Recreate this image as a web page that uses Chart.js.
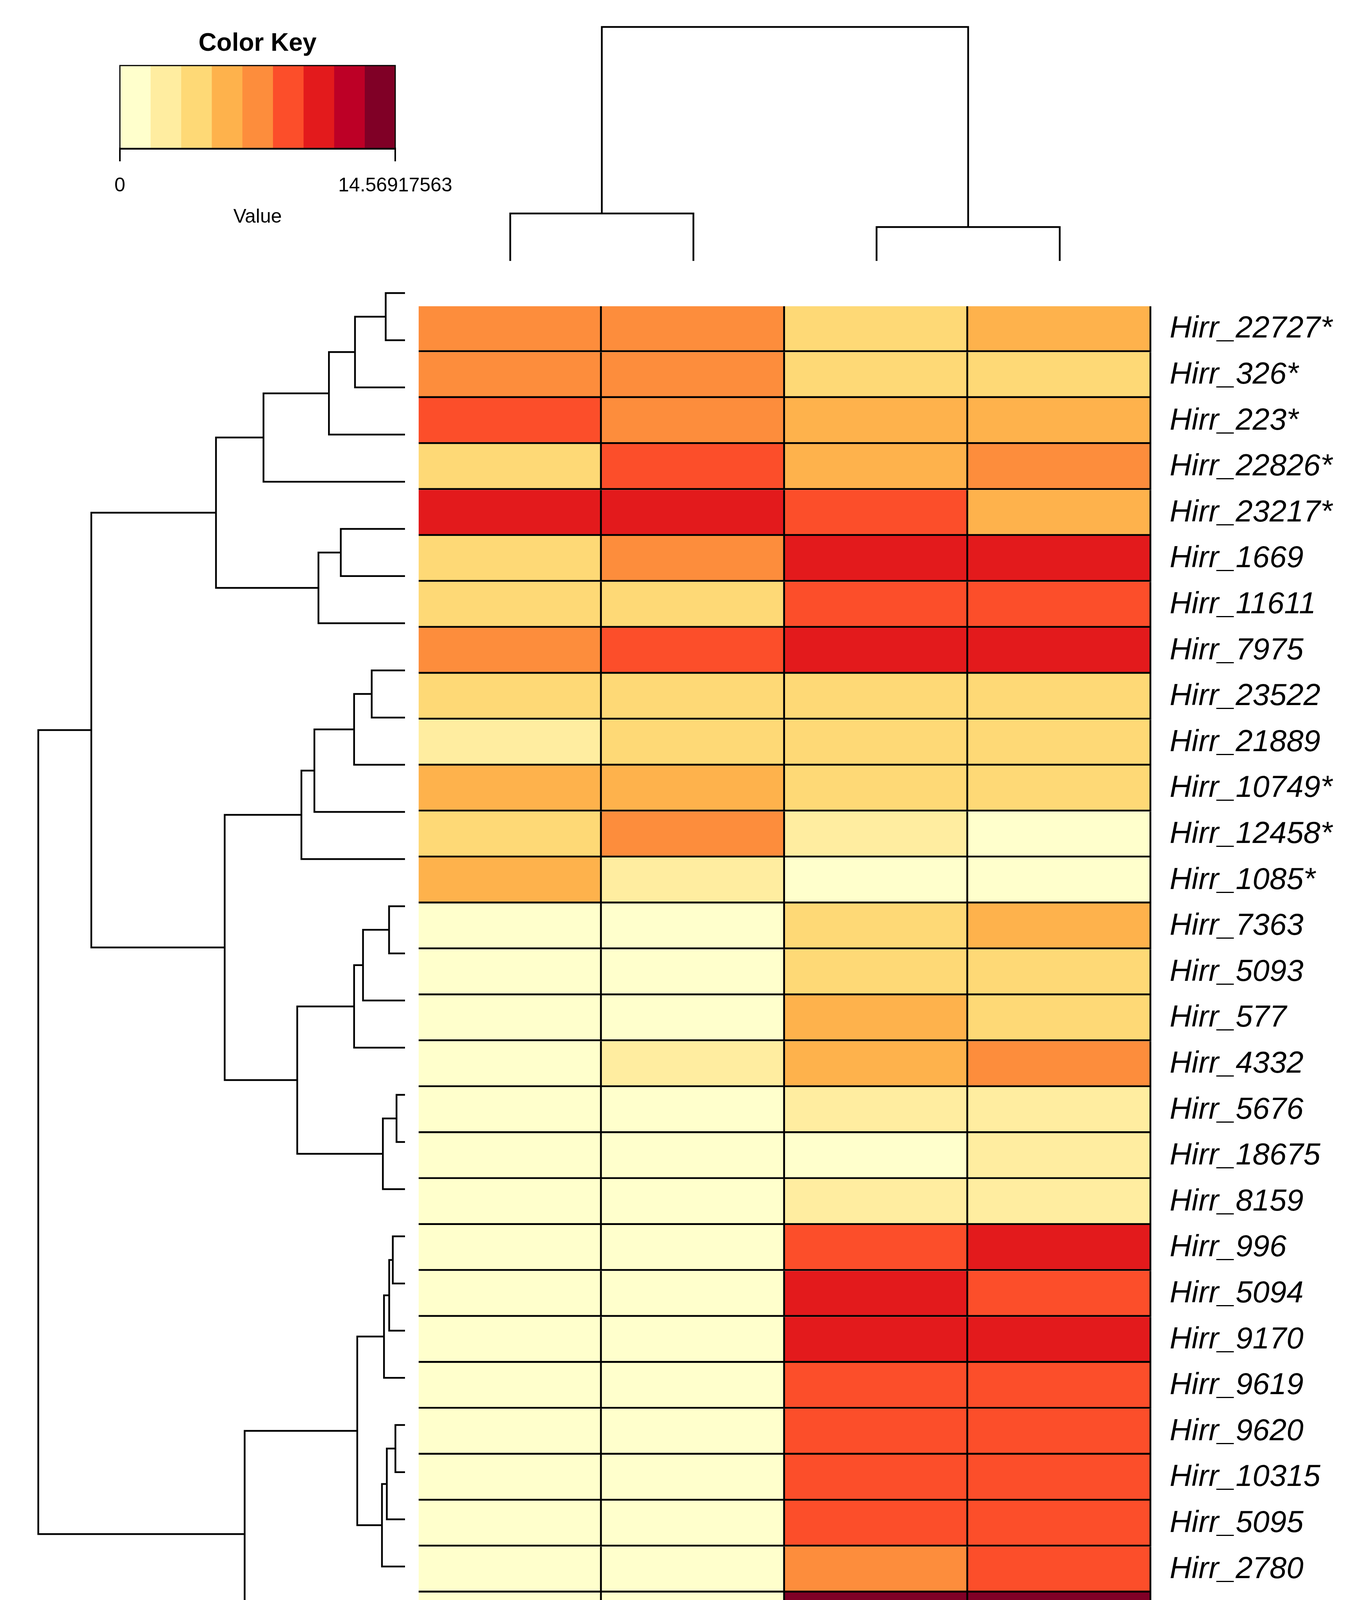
<!DOCTYPE html>
<html>
<head>
<meta charset="utf-8">
<script src="https://cdn.jsdelivr.net/npm/chart.js@4.4.1/dist/chart.umd.min.js"></script>
<style>
html,body{margin:0;padding:0;background:#ffffff;}
body{width:3467px;height:4596px;position:relative;overflow:hidden;}
canvas{position:absolute;}
</style>
</head>
<body>
<canvas id="key" style="left:200px;top:0px" width="1000" height="620"></canvas>
<canvas id="colDendro" style="left:1072px;top:0px" width="1876" height="680"></canvas>
<canvas id="rowDendro" style="left:0px;top:690px" width="1040" height="3622"></canvas>
<canvas id="heat" style="left:1072px;top:690px" width="2395" height="3906"></canvas>
<script>
// ---------------- DATA ----------------
const geneLabels = [
  'Hirr_22727*','Hirr_326*','Hirr_223*','Hirr_22826*','Hirr_23217*',
  'Hirr_1669','Hirr_11611','Hirr_7975','Hirr_23522','Hirr_21889',
  'Hirr_10749*','Hirr_12458*','Hirr_1085*','Hirr_7363','Hirr_5093',
  'Hirr_577','Hirr_4332','Hirr_5676','Hirr_18675','Hirr_8159',
  'Hirr_996','Hirr_5094','Hirr_9170','Hirr_9619','Hirr_9620',
  'Hirr_10315','Hirr_5095','Hirr_2780','Hirr_14454','Hirr_4331'
];
const colLabels = [['Female','Body'],['Male','Body'],['Female','Head'],['Male','Head']];

const femaleBody = [7.4,7.2,8.8,4.6,10.4,4.2,3.9,7.6,4.0,2.9,5.5,4.4,5.2,0.4,0.3,0.5,0.9,0.2,0.2,0.3,0.1,0.1,0.1,0.1,0.0,0.1,0.1,0.1,0.1,0.1];
const maleBody   = [7.1,7.3,7.5,8.7,10.1,7.0,4.5,8.5,3.9,3.7,5.9,6.9,2.7,0.6,0.5,0.7,1.9,0.4,0.3,0.3,0.2,0.1,0.2,0.1,0.1,0.1,0.2,0.1,0.1,0.1];
const femaleHead = [4.3,4.1,5.5,5.4,9.0,10.6,9.3,10.8,4.2,3.9,4.3,2.6,0.9,4.5,4.6,5.8,6.1,2.1,1.4,2.4,9.4,10.2,10.9,9.2,9.1,9.0,8.8,7.8,14.56917563,12.3];
const maleHead   = [5.6,4.4,5.3,6.9,5.8,10.9,9.1,11.0,4.1,4.0,4.4,1.2,1.1,5.3,4.2,4.7,7.0,2.3,2.0,2.2,10.3,9.6,10.6,8.9,9.3,9.4,9.2,8.6,14.1,12.0];

const keyBreaks = [0,1.6188,3.2376,4.8564,6.4752,8.0940,9.7128,11.3316,12.9504,14.56917563];
const keyColors = ['#FFFFCC','#FFEDA0','#FED976','#FEB24C','#FD8D3C','#FC4E2A','#E31A1C','#BD0026','#800026'];
const keyTickValues = [0, 14.56917563];
const keyTickLabels = ['0','14.56917563'];

// Row dendrogram (hclust-style merges: negative = leaf in display order, positive = earlier merge)
const rowMergeA = [-1,1,2,3,-6,5,4,-9,8,9,10,-14,12,13,-18,15,14,11,7,-21,20,21,-25,23,24,22,-29,26,19];
const rowMergeB = [-2,-3,-4,-5,-7,-8,6,-10,-11,-12,-13,-15,-16,-17,-19,-20,16,17,18,-22,-23,-24,-26,-27,-28,25,-30,27,28];
const rowMergeHeight = [17.1,44.3,67.4,125.4,56.9,76.7,167.5,29.5,45.1,80.3,91.8,14.1,37.2,45.1,7.5,19.6,95.5,159.8,278,10.8,14.0,18.6,8.5,16.1,20.4,42.3,48.6,142.1,325];

// Column dendrogram
const colMergeA = [-1,-3,1];
const colMergeB = [-2,-4,2];
const colMergeHeight = [42,30,207];

// ---------------- HELPERS ----------------
const FONT = "'Liberation Sans', Arial, Helvetica, sans-serif";
Chart.defaults.font.family = FONT;
Chart.defaults.color = '#000';

function colorFor(v) {
  for (let i = 0; i < keyColors.length; i++) {
    if (v <= keyBreaks[i + 1]) return keyColors[i];
  }
  return keyColors[keyColors.length - 1];
}

function dendroSegments(mA, mB, heights) {
  const pos = [], hgt = [], segs = [];
  const get = r => r < 0 ? {p: -r - 1, h: 0} : {p: pos[r - 1], h: hgt[r - 1]};
  for (let k = 0; k < heights.length; k++) {
    const a = get(mA[k]), b = get(mB[k]), h = heights[k];
    segs.push([{p: a.p, h: a.h}, {p: a.p, h: h}, {p: b.p, h: h}, {p: b.p, h: b.h}]);
    pos.push((a.p + b.p) / 2);
    hgt.push(h);
  }
  return segs;
}

const lineStyle = {showLine: true, borderColor: '#000', borderWidth: 4.5, pointRadius: 0, pointHoverRadius: 0, fill: false, tension: 0, clip: false};
const baseOpts = {responsive: false, animation: false, devicePixelRatio: 1, events: []};

// ---------------- COLOR KEY ----------------
const boxPlugin = {
  id: 'keyBox',
  afterDatasetsDraw(chart) {
    const a = chart.chartArea, ctx = chart.ctx;
    ctx.save();
    ctx.strokeStyle = '#000';
    ctx.lineWidth = 3;
    ctx.strokeRect(a.left, a.top, a.right - a.left, a.bottom - a.top);
    ctx.restore();
  }
};
new Chart(document.getElementById('key'), {
  type: 'bar',
  data: {
    labels: [''],
    datasets: keyColors.map((c, i) => ({
      label: 'bin' + i,
      data: [[keyBreaks[i], keyBreaks[i + 1]]],
      backgroundColor: c, borderWidth: 0,
      barPercentage: 1, categoryPercentage: 1, grouped: false
    }))
  },
  options: Object.assign({}, baseOpts, {
    indexAxis: 'y',
    layout: {padding: {left: 107, right: 188, top: 0, bottom: 0}},
    plugins: {
      legend: {display: false}, tooltip: {enabled: false},
      title: {display: true, text: 'Color Key', color: '#000', font: {family: FONT, weight: 'bold', size: 64, lineHeight: 1.2}, padding: {top: 74, bottom: 17}}
    },
    scales: {
      x: {
        type: 'linear', min: keyTickValues[0], max: keyTickValues[1], position: 'bottom',
        afterBuildTicks: s => { s.ticks = keyTickValues.map(v => ({value: v})); },
        ticks: {callback: (v, i) => keyTickLabels[i], font: {family: FONT, size: 50, lineHeight: 1.2}, color: '#000', padding: 33, autoSkip: false, maxRotation: 0},
        grid: {drawOnChartArea: false, drawTicks: true, tickLength: 33, color: '#000', lineWidth: 4},
        border: {display: true, color: '#000', width: 5},
        title: {display: true, text: 'Value', color: '#000', font: {family: FONT, size: 50, lineHeight: 1.2}, padding: {top: 0, bottom: 34}},
        afterFit: s => { s.height = 240; }
      },
      y: {display: false}
    }
  }),
  plugins: [boxPlugin]
});

// ---------------- COLUMN DENDROGRAM ----------------
new Chart(document.getElementById('colDendro'), {
  type: 'scatter',
  data: {
    datasets: dendroSegments(colMergeA, colMergeB, colMergeHeight).map((s, i) => Object.assign({
      label: 'c' + i, data: s.map(q => ({x: q.p, y: q.h}))
    }, lineStyle))
  },
  options: Object.assign({}, baseOpts, {
    layout: {padding: {top: 69, bottom: 12, left: 0, right: 0}},
    plugins: {legend: {display: false}, tooltip: {enabled: false}},
    scales: {
      x: {type: 'linear', min: -0.5, max: 3.5, display: false},
      y: {type: 'linear', min: 0, max: colMergeHeight[colMergeHeight.length - 1], display: false}
    }
  })
});

// ---------------- ROW DENDROGRAM ----------------
new Chart(document.getElementById('rowDendro'), {
  type: 'scatter',
  data: {
    datasets: dendroSegments(rowMergeA, rowMergeB, rowMergeHeight).map((s, i) => Object.assign({
      label: 'r' + i, data: s.map(q => ({x: q.h, y: q.p}))
    }, lineStyle))
  },
  options: Object.assign({}, baseOpts, {
    layout: {padding: {top: 0, bottom: 0, left: 98, right: 3}},
    plugins: {legend: {display: false}, tooltip: {enabled: false}},
    scales: {
      x: {type: 'linear', reverse: true, min: 0, max: rowMergeHeight[rowMergeHeight.length - 1], display: false},
      y: {type: 'linear', reverse: true, min: -0.5, max: geneLabels.length - 0.5, display: false}
    }
  })
});

// ---------------- HEATMAP ----------------
const columnValues = [femaleBody, maleBody, femaleHead, maleHead];
new Chart(document.getElementById('heat'), {
  type: 'bar',
  data: {
    labels: geneLabels,
    datasets: columnValues.map((vals, j) => ({
      label: colLabels[j].join(' '),
      data: geneLabels.map(() => 1),
      backgroundColor: vals.map(colorFor),
      borderColor: '#000',
      borderWidth: {top: 0, left: 0, right: 5, bottom: 5},
      borderSkipped: false,
      barPercentage: 1, categoryPercentage: 1,
      xAxisID: 'x', yAxisID: 'y'
    }))
  },
  options: Object.assign({}, baseOpts, {
    indexAxis: 'y',
    layout: {padding: 0},
    plugins: {legend: {display: false}, tooltip: {enabled: false}},
    scales: {
      x: {type: 'linear', stacked: true, min: 0, max: colLabels.length, display: false},
      cols: {
        type: 'category', axis: 'x', position: 'bottom', labels: colLabels, offset: true,
        grid: {display: false, drawTicks: false}, border: {display: false},
        ticks: {font: {family: FONT, weight: 'bold', size: 74, lineHeight: 1.15}, color: '#000', align: 'start', labelOffset: -128, padding: 3, autoSkip: false, maxRotation: 0, minRotation: 0},
        afterFit: s => { s.height = 284; }
      },
      y: {
        type: 'category', position: 'right', stacked: true,
        grid: {display: false, drawTicks: false}, border: {display: false},
        ticks: {font: {family: FONT, style: 'italic', size: 78}, color: '#000', padding: 47, autoSkip: false},
        afterFit: s => { s.width = 519; }
      }
    }
  })
});
</script>
</body>
</html>
